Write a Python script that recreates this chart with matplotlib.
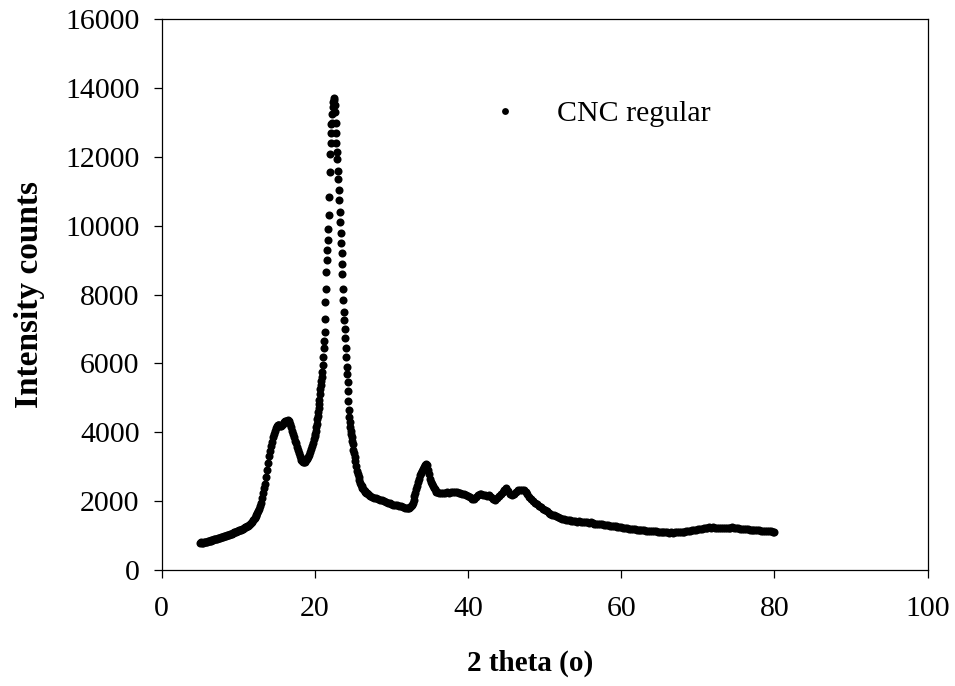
import numpy as np
import matplotlib
matplotlib.use("Agg")
import matplotlib.pyplot as plt

plt.rcParams['font.family'] = ['Liberation Serif', 'DejaVu Serif']

# ---- data ----
# segment A: 5.000 .. 20.000 deg, step 0.125
theta_a = np.linspace(5.0, 20.0, 121)
counts_a = [
    790, 800, 780, 790, 800, 815, 810, 825,            # 5
    830, 840, 845, 855, 860, 875, 880, 890,            # 6
    900, 895, 905, 920, 930, 940, 950, 955,            # 7
    965, 980, 990, 1000, 1010, 1020, 1030, 1040,       # 8
    1050, 1060, 1070, 1085, 1090, 1100, 1110, 1125,    # 9
    1140, 1150, 1160, 1175, 1190, 1205, 1220, 1235,    # 10
    1250, 1270, 1290, 1315, 1340, 1370, 1400, 1440,    # 11
    1480, 1520, 1560, 1600, 1650, 1700, 1760, 1850,    # 12
    1950, 2100, 2250, 2380, 2500, 2700, 2900, 3100,    # 13
    3300, 3450, 3600, 3730, 3850, 3950, 4050, 4120,    # 14
    4170, 4200, 4220, 4200, 4180, 4190, 4200, 4250,    # 15
    4300, 4320, 4330, 4340, 4350, 4320, 4250, 4150,    # 16
    4050, 3950, 3850, 3760, 3680, 3580, 3480, 3400,    # 17
    3320, 3260, 3200, 3160, 3130, 3130, 3150, 3190,    # 18
    3230, 3290, 3350, 3430, 3520, 3610, 3700, 3800,    # 19
    3900,                                              # 20
]

# segment B: 20.06 .. 24.98 deg, step 0.06 (main peak)
theta_b = np.linspace(20.06, 24.98, 83)
counts_b = [
    3950, 4050, 4150, 4250, 4380, 4480, 4600, 4700, 4820, 4950,
    5100, 5250, 5380, 5500, 5620, 5750, 5950, 6200, 6450, 6650,
    6900, 7300, 7800, 8150, 8650, 9000, 9300, 9600, 9900, 10300,
    10850, 11550, 12100, 12400, 12700, 12950, 13000, 13250, 13450, 13600,
    13700, 13650, 13500, 13300, 12980, 12700, 12400, 12150, 11950, 11600,
    11350, 11050, 10750, 10400, 10100, 9800, 9500, 9200, 8900, 8600,
    8150, 7850, 7500, 7250, 7000, 6750, 6450, 6200, 5900, 5700,
    5450, 5200, 4900, 4650, 4450, 4300, 4150, 4050, 3950, 3850,
    3750, 3650, 3500,
]

# segment C1: 25.1 .. 27.0 deg, step 0.1
theta_c1 = np.linspace(25.1, 27.0, 20)
counts_c1 = [
    3400, 3280, 3170, 3020, 2880, 2780, 2690, 2610, 2540, 2480,
    2430, 2390, 2360, 2320, 2300, 2270, 2250, 2230, 2210, 2190,
]

# segment C2: 27.25 .. 32.0 deg, step 0.25
theta_c2 = np.linspace(27.25, 32.0, 20)
counts_c2 = [
    2150, 2120, 2100, 2080, 2050, 2040, 2020, 2000, 1990, 1960,
    1950, 1930, 1900, 1890, 1880, 1860, 1850, 1830, 1810, 1800,
]

# segment C3: 32.125 .. 36.0 deg, step 0.125 (peak near 34.5)
theta_c3 = np.linspace(32.125, 36.0, 32)
counts_c3 = [
    1790, 1800, 1820, 1850, 1900, 1950, 2040,          # 32.125-32.875
    2150, 2250, 2350, 2450, 2550, 2650, 2750, 2820,    # 33
    2880, 2940, 3000, 3040, 3070, 3050, 2900, 2780,    # 34
    2650, 2570, 2500, 2440, 2380, 2340, 2300, 2280,    # 35
    2260,                                              # 36
]

# segment C4: 36.25 .. 80.0 deg, step 0.25
theta_c4 = np.linspace(36.25, 80.0, 176)
counts_c4 = [
    2240, 2250, 2230,          # 36
    2240, 2260, 2240, 2270,    # 37
    2280, 2260, 2280, 2250,    # 38
    2230, 2220, 2200, 2170,    # 39
    2150, 2120, 2070, 2060,    # 40
    2120, 2180, 2200, 2210,    # 41
    2190, 2180, 2150, 2170,    # 42
    2110, 2060, 2020, 2080,    # 43
    2150, 2200, 2260, 2330,    # 44
    2380, 2300, 2220, 2180,    # 45
    2200, 2270, 2320, 2330,    # 46
    2310, 2330, 2280, 2200,    # 47
    2120, 2070, 2000, 1960,    # 48
    1920, 1870, 1820, 1780,    # 49
    1730, 1700, 1660, 1630,    # 50
    1610, 1590, 1560, 1530,    # 51
    1510, 1490, 1470, 1460,    # 52
    1450, 1440, 1420, 1420,    # 53
    1410, 1400, 1410, 1390,    # 54
    1400, 1380, 1390, 1370,    # 55
    1380, 1360, 1350, 1350,    # 56
    1340, 1330, 1330, 1320,    # 57
    1310, 1310, 1290, 1290,    # 58
    1270, 1270, 1260, 1250,    # 59
    1240, 1230, 1220, 1210,    # 60
    1200, 1200, 1190, 1180,    # 61
    1170, 1170, 1160, 1150,    # 62
    1150, 1140, 1140, 1130,    # 63
    1130, 1120, 1120, 1110,    # 64
    1110, 1100, 1100, 1090,    # 65
    1090, 1080, 1090, 1080,    # 66
    1090, 1090, 1100, 1100,    # 67
    1110, 1110, 1120, 1130,    # 68
    1140, 1150, 1160, 1170,    # 69
    1180, 1190, 1200, 1210,    # 70
    1220, 1230, 1240, 1230,    # 71
    1240, 1230, 1220, 1220,    # 72
    1210, 1220, 1220, 1210,    # 73
    1220, 1230, 1240, 1230,    # 74
    1220, 1210, 1200, 1190,    # 75
    1190, 1180, 1180, 1170,    # 76
    1170, 1160, 1160, 1150,    # 77
    1150, 1140, 1140, 1130,    # 78
    1130, 1120, 1120, 1110,    # 79
    1110,                      # 80
]

series_label = "CNC regular"
x_ticks = [0, 20, 40, 60, 80, 100]
y_ticks = [0, 2000, 4000, 6000, 8000, 10000, 12000, 14000, 16000]
x_label = "2 theta (o)"
y_label = "Intensity counts"

pairs = [(theta_a, counts_a), (theta_b, counts_b), (theta_c1, counts_c1),
         (theta_c2, counts_c2), (theta_c3, counts_c3), (theta_c4, counts_c4)]
for t, c in pairs:
    assert len(t) == len(c), (len(t), len(c))

theta = np.concatenate([t for t, _ in pairs])
counts = np.concatenate([c for _, c in pairs])

# ---- figure ----
fig = plt.figure(figsize=(9.55, 6.86), dpi=100)
ax = fig.add_axes([0.1693, 0.1691, 0.8021, 0.8028])

ax.plot(theta, counts, linestyle='none', marker='o', markersize=5.8,
        color='black', markeredgewidth=0, label=series_label)

ax.set_xlim(0, 100)
ax.set_ylim(0, 16000)
ax.set_xticks(x_ticks)
ax.set_yticks(y_ticks)
ax.tick_params(direction='out', length=5.8, width=0.9, labelsize=21.5,
               color='black')
ax.tick_params(axis='y', pad=10)
ax.tick_params(axis='x', pad=13)
for s in ax.spines.values():
    s.set_linewidth(0.9)

ax.set_xlabel(x_label, fontsize=21, fontweight='bold')
ax.set_ylabel(y_label, fontsize=24, fontweight='bold')
ax.xaxis.set_label_coords(0.481, -0.169)
ax.yaxis.set_label_coords(-0.172, 0.5)
ax.xaxis.label.set_va('center')
ax.yaxis.label.set_va('center')

ax.legend(loc='center left', bbox_to_anchor=(0.4287, 0.828), frameon=False,
          fontsize=21.5, handlelength=1.0, handletextpad=1.23,
          borderpad=0, borderaxespad=0, markerscale=0.85)

fig.savefig("out.png", dpi=100)
